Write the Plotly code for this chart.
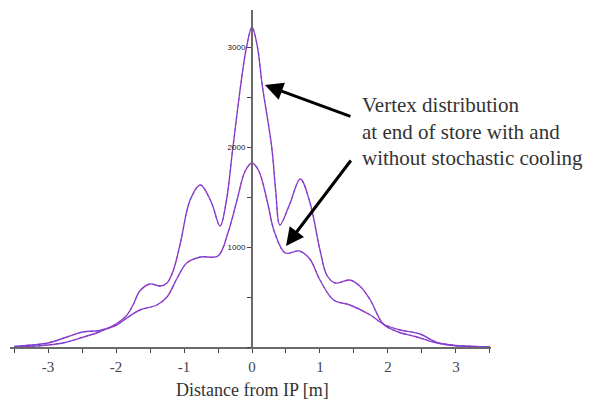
import plotly.graph_objects as go

# Cooled (narrow, high peak) distribution
x_a = [-3.5, -3.25, -3.0, -2.75, -2.5, -2.25, -2.0, -1.85, -1.75, -1.65, -1.5, -1.35, -1.25,
       -1.16, -1.05, -0.91, -0.76, -0.6, -0.47, -0.38, -0.28, -0.15, -0.08, 0.0, 0.08, 0.15,
       0.29, 0.35, 0.41, 0.55, 0.71, 0.85, 1.0, 1.1, 1.22, 1.44, 1.6, 1.74, 1.93, 2.15, 2.4,
       2.72, 3.0, 3.25, 3.5]
y_a = [3, 8, 20, 45, 95, 150, 230, 310, 420, 560, 630, 610, 640,
       760, 1050, 1470, 1620, 1450, 1210, 1450, 2000, 2700, 3000, 3200, 3000, 2620,
       2000, 1550, 1220, 1420, 1680, 1450, 970, 720, 640, 670, 600, 470, 230, 150, 105,
       40, 12, 5, 2]

# Uncooled (broad) distribution
x_b = [-3.5, -3.25, -3.0, -2.72, -2.49, -2.24, -1.99, -1.84, -1.65, -1.4, -1.25, -1.1, -0.96,
       -0.76, -0.5, -0.35, -0.22, -0.1, 0.0, 0.1, 0.22, 0.33, 0.49, 0.7, 0.85, 1.0, 1.2,
       1.44, 1.74, 1.93, 2.18, 2.47, 2.72, 3.0, 3.25, 3.5]
y_b = [5, 20, 40, 100, 150, 165, 220, 290, 370, 420, 500, 690, 840,
       900, 910, 1150, 1470, 1760, 1840, 1760, 1470, 1150, 940, 960, 880, 670, 470,
       420, 320, 230, 170, 130, 45, 15, 6, 2]

x_ticks = [-3, -2, -1, 0, 1, 2, 3]
y_ticks = [1000, 2000, 3000]

label_lines = ["Vertex distribution", "at end of store with and", "without stochastic cooling"]
x_title = "Distance from IP [m]"

fig = go.Figure()
for xs, ys in [(x_a, y_a), (x_b, y_b)]:
    fig.add_trace(go.Scatter(x=xs, y=ys, mode="lines", line=dict(color="#a03cc4", width=1.4, shape="spline", smoothing=1.0),
                             hoverinfo="skip", showlegend=False))
    fig.add_trace(go.Scatter(x=xs, y=ys, mode="lines", line=dict(color="#4646e0", width=0.8, shape="spline", smoothing=1.0, dash="dot"),
                             hoverinfo="skip", showlegend=False))

# page body has an 8px default margin, so the figure is 8px smaller and offset
fig.update_layout(
    width=583, height=393,
    margin=dict(l=2, r=100, t=2, b=54),
    paper_bgcolor="white", plot_bgcolor="white",
    showlegend=False,
    xaxis=dict(range=[-3.559, 3.515], domain=[0, 1], showgrid=False, zeroline=False,
               showline=True, linecolor="#6a6a6a", linewidth=2,
               tickvals=x_ticks, ticktext=[str(v) for v in x_ticks],
               ticks="outside", ticklen=4, tickwidth=1, tickcolor="#444",
               minor=dict(dtick=0.5, ticks="outside", ticklen=4, tickwidth=1, tickcolor="#444"),
               tickfont=dict(family="Liberation Serif", size=15, color="#444"),
               ticklabelstandoff=1),
    yaxis=dict(range=[0, 3370], anchor="free", position=242/481, showgrid=False, zeroline=False,
               showline=True, linecolor="#6a6a6a", linewidth=2,
               tickvals=y_ticks, ticktext=[str(v) for v in y_ticks],
               ticks="outside", ticklen=4, tickwidth=1, tickcolor="#444",
               minor=dict(dtick=500, ticks="outside", ticklen=4, tickwidth=1, tickcolor="#444"),
               tickfont=dict(family="Liberation Sans", size=8, color="#222"),
               ticklabelstandoff=0),
)

# x axis title
fig.add_annotation(text=x_title, xref="x", yref="paper", x=0.0, y=-43/337, yanchor="middle",
                   xanchor="center", showarrow=False,
                   font=dict(family="Liberation Serif", size=18, color="#333"))

# descriptive text
for i, line in enumerate(label_lines):
    fig.add_annotation(text=line, xref="x", yref="y", x=1.59, y=2420 - i * 265, xanchor="left",
                       yanchor="middle", showarrow=False,
                       font=dict(family="Liberation Serif", size=21, color="#333"))

# arrows
fig.add_annotation(x=0.19, y=2620, xref="x", yref="y", ax=87, ay=32, text="", showarrow=True,
                   arrowhead=2, arrowsize=1.2, arrowwidth=3, arrowcolor="black")
fig.add_annotation(x=0.5, y=1010, xref="x", yref="y", ax=66, ay=-87, text="", showarrow=True,
                   arrowhead=2, arrowsize=1.2, arrowwidth=3, arrowcolor="black")

fig.write_html("out.html")
